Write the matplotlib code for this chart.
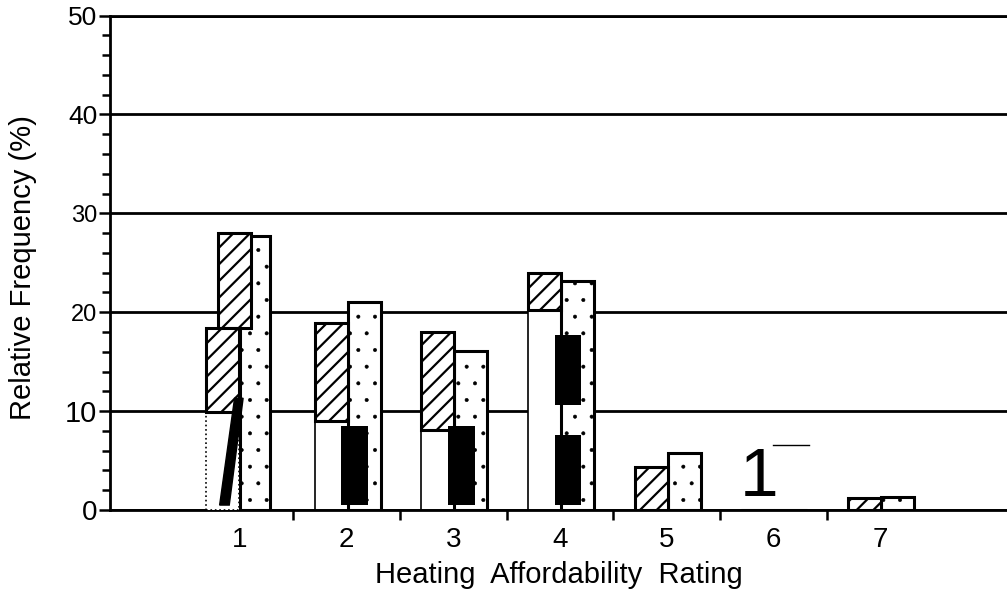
import numpy as np
import matplotlib
matplotlib.use("Agg")
import matplotlib.pyplot as plt
from matplotlib.ticker import MultipleLocator, FixedLocator

plt.rcParams['font.family'] = ['Liberation Sans', 'DejaVu Sans']

# heating affordability rating categories
ratings = [1, 2, 3, 4, 5, 6, 7]

# hatched series (top of bar, and level below which the scan shows no hatching)
hatched_top = [28.0, 18.9, 18.0, 24.0, 4.4, 0.0, 1.2]
hatched_base = [18.4, 9.0, 8.1, 20.2, 0.0, 0.0, 0.0]
# extra hatched piece visible in group 1
hatched1_lower_top = 18.4
hatched1_lower_base = 9.9

# stippled series
stipple_top = [27.7, 21.0, 16.1, 23.2, 5.8, 0.0, 1.3]

# solid black pieces (category, bottom, top)
black_cat = [2, 3, 4, 4]
black_lo = [0.5, 0.5, 0.5, 10.6]
black_hi = [8.5, 8.5, 7.6, 17.7]
# slanted black piece in group 1
black1_top = 11.3

yticks = [0, 10, 20, 30, 40, 50]
ytick_sizes = [20, 21, 17, 17, 19, 19]


def hatch_lw(bars, lw):
    for b in bars:
        if hasattr(b, 'set_hatch_linewidth'):
            b.set_hatch_linewidth(lw)


fig = plt.figure(figsize=(10.07, 5.97), dpi=100)
ax = fig.add_axes([0.1092, 0.1457, 0.8908, 0.8283])

w = 0.31
x = np.array(ratings, dtype=float)
ht = np.array(hatched_top)
hb = np.array(hatched_base)

# hatched bars: white lower part + hatched upper part
shift = np.where(x == 1, 0.09, 0.0)
lower = np.where(x == 1, 0, hb)
ax.bar(x - 0.30 + shift, lower, width=w, align='edge', color='white',
       edgecolor='black', linewidth=1.2, zorder=2)
plt.rcParams['hatch.linewidth'] = 1.6
hb1 = ax.bar(x - 0.30 + shift, ht - hb, bottom=hb, width=w, align='edge',
             color='white', edgecolor='black', hatch='//', linewidth=2.2, zorder=3)
hatch_lw(hb1, 1.6)

# group 1 lower hatched piece and white base
ax.bar([1 - 0.32], [hatched1_lower_base], width=w, align='edge', color='white',
       edgecolor='black', linewidth=1.2, linestyle=':', zorder=4)
hb2 = ax.bar([1 - 0.32], [hatched1_lower_top - hatched1_lower_base],
             bottom=[hatched1_lower_base], width=w, align='edge', color='white',
             edgecolor='black', hatch='//', linewidth=2.2, zorder=4)
hatch_lw(hb2, 1.6)

# stippled bars
st = np.array(stipple_top)
sx = np.where(x == 1, x + 0.0, x + 0.01)
sw = np.where(x == 1, 0.28, w)
plt.rcParams['hatch.linewidth'] = 0.4
sb = ax.bar(sx, st, width=sw, align='edge', color='white', edgecolor='black',
            hatch='.', linewidth=2.2, zorder=2)
hatch_lw(sb, 0.4)

# black pieces
ax.bar(np.array(black_cat) - 0.05, np.array(black_hi) - np.array(black_lo),
       bottom=black_lo, width=0.25, align='edge', color='black',
       edgecolor='black', linewidth=0, zorder=5)
ax.fill([1 - 0.19, 1 - 0.10, 1 + 0.03, 1 - 0.05],
        [0.5, 0.5, black1_top, black1_top], color='black', zorder=5)

# scan artifacts around rating 6
ax.text(6 - 0.13, 0, "1", fontsize=50, ha='center', va='bottom', zorder=6)
ax.plot([6 + 0.0, 6 + 0.33], [6.6, 6.6], color='black', lw=1, zorder=6)

ax.set_xlim(-0.218, 8.19)
ax.set_ylim(0, 50)

ax.xaxis.set_major_locator(FixedLocator(ratings))
ax.xaxis.set_minor_locator(FixedLocator([r + 0.5 for r in ratings[:-1]]))
ax.tick_params(axis='x', which='major', length=0, labelsize=20, pad=12)
ax.tick_params(axis='x', which='minor', length=7, width=1.8, direction='out')

ax.set_yticks(yticks)
ax.yaxis.set_minor_locator(MultipleLocator(2))
ax.tick_params(axis='y', which='major', length=8, width=1.8, direction='out', pad=1)
ax.tick_params(axis='y', which='minor', length=6, width=1.8, direction='out')
for lab, s in zip(ax.get_yticklabels(), ytick_sizes):
    lab.set_fontsize(s)

ax.yaxis.grid(True, which='major', color='black', linewidth=2)
ax.set_axisbelow(True)

ax.spines['right'].set_visible(False)
for sp in ['left', 'bottom', 'top']:
    ax.spines[sp].set_linewidth(2)

ax.set_xlabel("Heating  Affordability  Rating", fontsize=21, labelpad=6)
ax.set_ylabel("Relative Frequency (%)", fontsize=21)
ax.yaxis.set_label_coords(-0.081, 0.49)

fig.savefig("out.png", dpi=100)
